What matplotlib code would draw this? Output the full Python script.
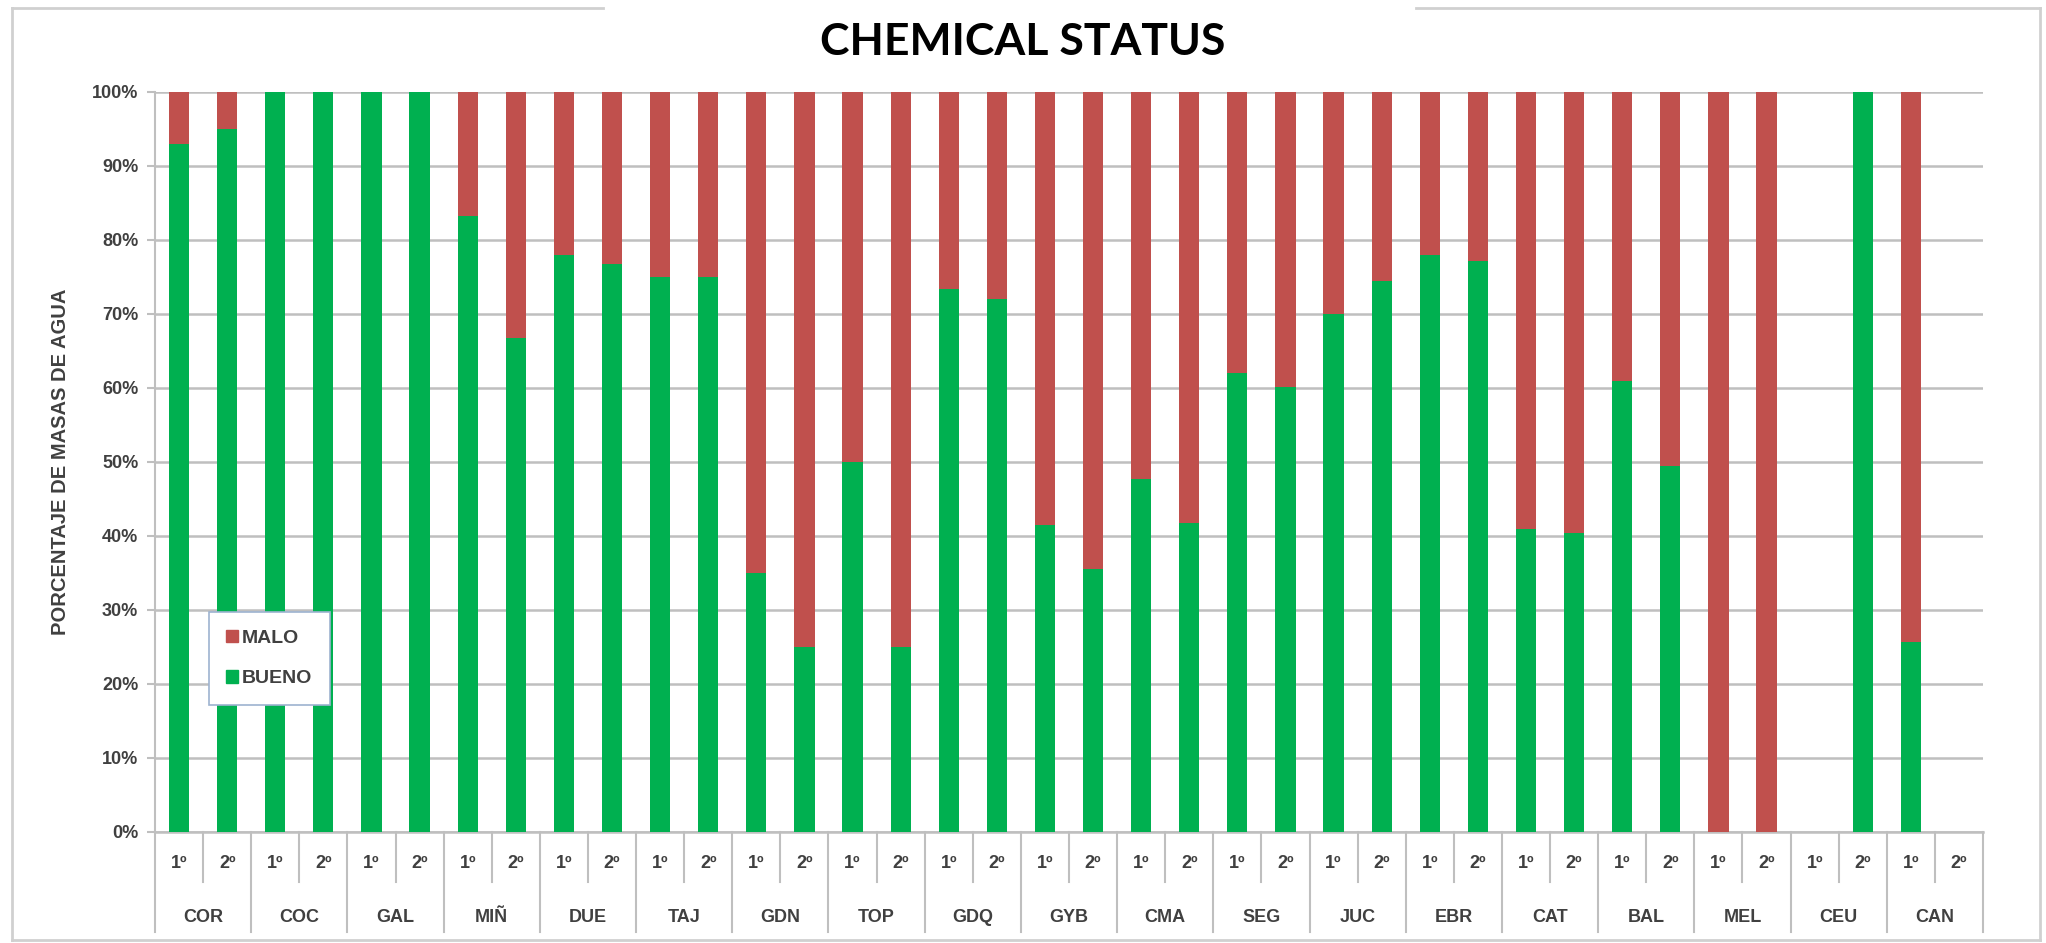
import matplotlib
matplotlib.use('Agg')
import matplotlib.pyplot as plt
import matplotlib.transforms as mtransforms
from matplotlib.lines import Line2D
from matplotlib.patches import Patch
import numpy as np

# basin codes, two cycles (1º / 2º) per basin
groups = ['COR', 'COC', 'GAL', 'MIÑ', 'DUE', 'TAJ', 'GDN', 'TOP', 'GDQ', 'GYB',
          'CMA', 'SEG', 'JUC', 'EBR', 'CAT', 'BAL', 'MEL', 'CEU', 'CAN']
cycles = ['1º', '2º']

bueno_1 = [93, 100, 100, 83.3, 78, 75, 35, 50, 73.4, 41.5,
           47.7, 62, 70, 78, 41, 61, 0, 0, 25.7]
malo_1 = [7, 0, 0, 16.7, 22, 25, 65, 50, 26.6, 58.5,
          52.3, 38, 30, 22, 59, 39, 100, 0, 74.3]
bueno_2 = [95, 100, 100, 66.7, 76.8, 75, 25, 25, 72, 35.6,
           41.7, 60.1, 74.5, 77.1, 40.4, 49.5, 0, 100, 0]
malo_2 = [5, 0, 0, 33.3, 23.2, 25, 75, 75, 28, 64.4,
          58.3, 39.9, 25.5, 22.9, 59.6, 50.5, 100, 0, 0]

GREEN = '#00B050'
RED = '#C0504D'
GRID = '#BFBFBF'
TXT = '#404040'
FONT = ['Liberation Sans Narrow', 'Liberation Sans', 'DejaVu Sans']

W, H = 2046, 943
fig = plt.figure(figsize=(W / 100, H / 100), dpi=100)
ax = fig.add_axes([155 / W, 1 - 832 / H, (1983 - 155) / W, (832 - 92) / H])

n = len(groups)
x1 = np.arange(n) * 2
x2 = x1 + 1
bw = 0.42
ax.bar(x1, bueno_1, bw, color=GREEN, zorder=3)
ax.bar(x1, malo_1, bw, bottom=bueno_1, color=RED, zorder=3)
ax.bar(x2, bueno_2, bw, color=GREEN, zorder=3)
ax.bar(x2, malo_2, bw, bottom=bueno_2, color=RED, zorder=3)

ax.set_xlim(-0.5, 2 * n - 0.5)
ax.set_ylim(0, 100)
ax.set_yticks(np.arange(0, 101, 10))
ax.set_yticklabels(['{}%'.format(v) for v in range(0, 101, 10)],
                   fontsize=13, color=TXT, family=FONT, fontweight='bold')
ax.tick_params(axis='y', length=6, width=1.5, color=GRID, pad=6)
ax.grid(axis='y', color=GRID, linewidth=1.8, zorder=0)
ax.set_xticks([])
for side in ['top', 'right']:
    ax.spines[side].set_visible(False)
ax.spines['left'].set_color(GRID)
ax.spines['left'].set_linewidth(1.5)
ax.spines['bottom'].set_color(GRID)
ax.spines['bottom'].set_linewidth(1.8)

ax.set_ylabel('PORCENTAJE DE MASAS DE AGUA', fontsize=14.5, color=TXT,
              family=FONT, fontweight='bold', labelpad=16)

# two-level category axis
trans = mtransforms.blended_transform_factory(ax.transData, ax.transAxes)
minor_y = -(882 - 832) / 740
major_y = -(932 - 832) / 740
for i in range(n):
    for j, c in enumerate(cycles):
        ax.text(2 * i + j, -(863 - 832) / 740, c, transform=trans, ha='center',
                va='center', fontsize=13, color=TXT, family=FONT, fontweight='bold')
    ax.text(2 * i + 0.5, -(917 - 832) / 740, groups[i], transform=trans,
            ha='center', va='center', fontsize=13, color=TXT, family=FONT,
            fontweight='bold')
    ax.add_line(Line2D([2 * i + 0.5] * 2, [0, minor_y], transform=trans,
                       color=GRID, lw=1.5, clip_on=False))
for k in range(n + 1):
    ax.add_line(Line2D([2 * k - 0.5] * 2, [0, major_y], transform=trans,
                       color=GRID, lw=1.5, clip_on=False))

# legend
handles = [Patch(color=RED, label='MALO'), Patch(color=GREEN, label='BUENO')]
leg = ax.legend(handles=handles, loc='upper left', bbox_to_anchor=(0.024, 0.31),
                prop={'family': FONT, 'size': 14, 'weight': 'bold'},
                handlelength=0.6, handleheight=0.6, handletextpad=0.2,
                labelspacing=1.2, borderpad=0.9, fancybox=False,
                framealpha=1, labelcolor=TXT)
leg.get_frame().set_edgecolor('#9DB3D0')
leg.get_frame().set_linewidth(1.2)

# chart area border, broken where the title box sits
fx = lambda p: p / W
fy = lambda p: 1 - p / H
border = dict(color='#D0D0D0', lw=2, transform=fig.transFigure)
fig.add_artist(Line2D([fx(12), fx(12)], [fy(8), fy(940)], **border))
fig.add_artist(Line2D([fx(12), fx(2040)], [fy(940), fy(940)], **border))
fig.add_artist(Line2D([fx(2040), fx(2040)], [fy(8), fy(940)], **border))
fig.add_artist(Line2D([fx(12), fx(603)], [fy(8), fy(8)], **border))
fig.add_artist(Line2D([fx(1416), fx(2040)], [fy(8), fy(8)], **border))

fig.text(0.5, fy(42), 'CHEMICAL STATUS', ha='center', va='center',
         fontsize=32, fontweight='bold', family=['Lato', 'DejaVu Sans'])

fig.savefig('out.png', dpi=100)
